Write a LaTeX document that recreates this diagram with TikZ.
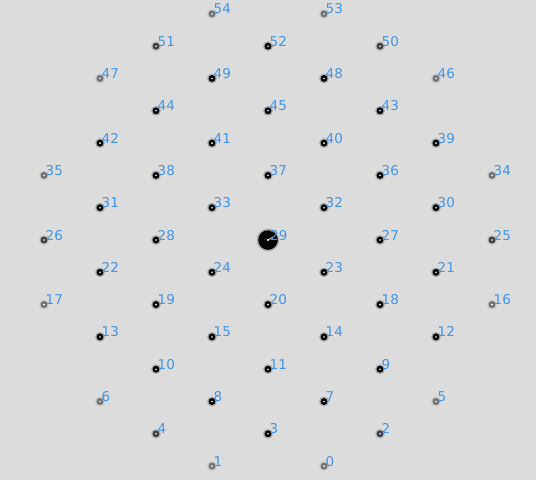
\documentclass[tikz,border=0pt]{standalone}
\usepackage{fontspec}
\setmainfont{DejaVu Sans}
\definecolor{bg}{RGB}{220,220,220}
\definecolor{lbl}{RGB}{66,148,228}
\begin{document}
\begin{tikzpicture}[x=1pt,y=-1pt,
  lab/.style={anchor=base west, inner sep=0pt, text=lbl, font=\fontsize{13.5}{13.5}\selectfont}]
\fill[bg] (0,0) rectangle (536,480);
\useasboundingbox (0,0) rectangle (536,480);
\foreach \i/\j/\n in {-1/-7/54,1/-7/53,
  -2/-6/51,0/-6/52,2/-6/50,
  -3/-5/47,-1/-5/49,1/-5/48,3/-5/46,
  -2/-4/44,0/-4/45,2/-4/43,
  -3/-3/42,-1/-3/41,1/-3/40,3/-3/39,
  -4/-2/35,-2/-2/38,0/-2/37,2/-2/36,4/-2/34,
  -3/-1/31,-1/-1/33,1/-1/32,3/-1/30,
  -4/0/26,-2/0/28,2/0/27,4/0/25,
  -3/1/22,-1/1/24,1/1/23,3/1/21,
  -4/2/17,-2/2/19,0/2/20,2/2/18,4/2/16,
  -3/3/13,-1/3/15,1/3/14,3/3/12,
  -2/4/10,0/4/11,2/4/9,
  -3/5/6,-1/5/8,1/5/7,3/5/5,
  -2/6/4,0/6/3,2/6/2,
  -1/7/1,1/7/0}{
  \pgfmathsetmacro\b{\j*32.3/56}
  \pgfmathsetmacro\dd{56*sqrt(\i*\i+\b*\b)}
  \pgfmathsetmacro\op{min(1,max(0.35,(250-\dd)/40))}
  \pgfmathsetmacro\hop{0.2*\op}
  \coordinate (p\n) at ({268+56*\i},{240+32.3*\j});
  \fill[black, opacity=\hop] (p\n) circle (5);
  \fill[black, opacity=\op] (p\n) circle (3.5);
  \fill[white] (p\n) circle (0.9);
  \node[lab] (t\n) at ([xshift=1.5pt]p\n) {\n};
}
\coordinate (p29) at (268,240);
\fill[black, opacity=0.2] (p29) circle (11.5);
\fill[black] (p29) circle (9.8);
\fill[white] (p29) circle (1.1);
\coordinate (w29) at (273,237);
\draw[white, line width=0.7pt] (p29) -- (w29);
\node[lab] (t29) at ([xshift=2pt]p29) {29};
\end{tikzpicture}
\end{document}
